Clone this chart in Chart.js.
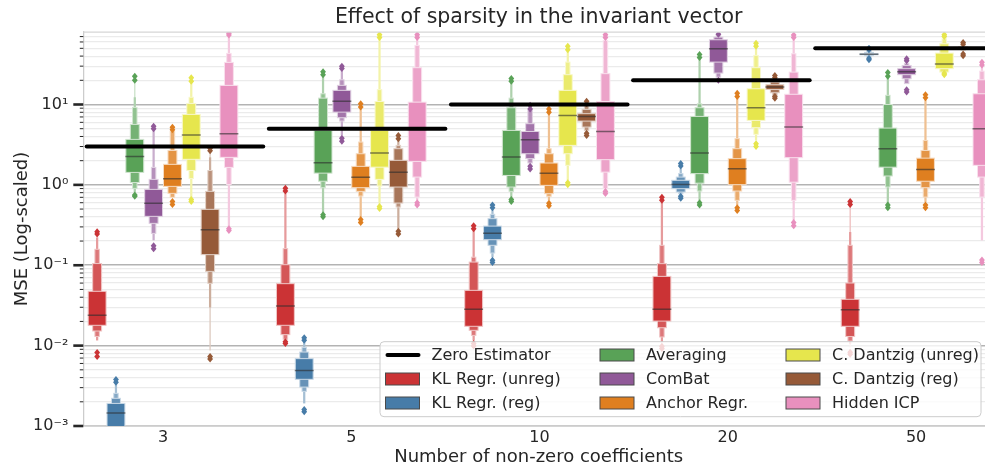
<!DOCTYPE html>
<html>
<head>
<meta charset="utf-8">
<title>Effect of sparsity in the invariant vector</title>
<script src="https://cdn.jsdelivr.net/npm/chart.js@4.4.0/dist/chart.umd.min.js"></script>
<style>
	html, body { margin: 0; padding: 0; overflow: hidden; background: #fff; }
	#wrap { width: 994px; height: 468px; }
</style>
</head>
<body>
<div id="wrap"><canvas id="sparsityChart"></canvas></div>
<script>
const categories = ["3", "5", "10", "20", "50"];
const zeroEstimator = [3, 5, 10, 20, 50];
const yTickValues = [0.001, 0.01, 0.1, 1, 10];
const yTickLabels = ["10⁻³", "10⁻²", "10⁻¹", "10⁰", "10¹"];
const minorSteps = [2, 3, 4, 5, 6, 7, 8, 9];

const seriesNames = [
	"KL Regr. (unreg)", "KL Regr. (reg)", "Averaging", "ComBat",
	"Anchor Regr.", "C. Dantzig (unreg)", "C. Dantzig (reg)", "Hidden ICP",
];
const seriesColors = ["#cb3335", "#477ca8", "#59a257", "#905998", "#df7f20", "#e6e64d", "#965a38", "#e890be"];

// each entry: median, letter-value boxes from inner to outer as [low, high], outliers
const klUnreg = [
	{ med: 0.0238, levels: [[0.0179, 0.0474], [0.0152, 0.105], [0.013, 0.158], [0.0116, 0.222]], out: [0.0073, 0.0082, 0.245, 0.262] },
	{ med: 0.0311, levels: [[0.0179, 0.059], [0.0137, 0.1016], [0.012, 0.161], [0.0115, 0.784]], out: [0.0106, 0.0112, 0.84, 0.91] },
	{ med: 0.0283, levels: [[0.0174, 0.0487], [0.0155, 0.1096], [0.0134, 0.126], [0.0116, 0.272]], out: [0.0099, 0.0106, 0.285, 0.31] },
	{ med: 0.0283, levels: [[0.0202, 0.0727], [0.0167, 0.1047], [0.0128, 0.177], [0.011, 0.611]], out: [0.0092, 0.0098, 0.645, 0.7] },
	{ med: 0.028, levels: [[0.0174, 0.0377], [0.013, 0.0601], [0.0114, 0.177], [0.0105, 0.259], [0.0095, 0.54]], out: [0.0078, 0.0083, 0.57, 0.62] },
];
const klReg = [
	{ med: 0.00145, levels: [[0.0008, 0.00191], [0.0006, 0.00221], [0.0005, 0.00255], [0.0004, 0.0034]], out: [0.0035, 0.0038] },
	{ med: 0.00492, levels: [[0.00381, 0.00689], [0.00305, 0.00832], [0.0027, 0.0095], [0.00191, 0.0111]], out: [0.0015, 0.0016, 0.0117, 0.0125] },
	{ med: 0.251, levels: [[0.208, 0.307], [0.177, 0.38], [0.142, 0.43], [0.126, 0.492]], out: [0.108, 0.115, 0.52, 0.56] },
	{ med: 1.01, levels: [[0.897, 1.14], [0.814, 1.25], [0.777, 1.38], [0.74, 1.6]], out: [0.68, 0.72, 1.72, 1.84] },
	{ med: 42.3, levels: [[41.5, 43.0], [40.5, 44.5], [39.5, 46]], out: [36, 37.5, 48, 50] },
];
const averaging = [
	{ med: 2.26, levels: [[1.43, 3.68], [1.07, 5.65], [0.904, 9.2], [0.807, 12.3], [0.78, 18.8]], out: [0.72, 0.75, 20, 22.5] },
	{ med: 1.89, levels: [[1.4, 4.76], [1.11, 12.0], [0.923, 13.6], [0.446, 22.3]], out: [0.4, 0.425, 23.5, 25.5] },
	{ med: 2.22, levels: [[1.31, 4.76], [0.94, 9.12], [0.83, 12], [0.705, 18.5]], out: [0.62, 0.66, 19.5, 21] },
	{ med: 2.49, levels: [[1.38, 7.11], [1.05, 9.12], [0.838, 10.2], [0.642, 37.1]], out: [0.56, 0.6, 38.5, 42] },
	{ med: 2.82, levels: [[1.66, 5.09], [1.29, 10.0], [0.94, 13.0], [0.583, 21.9]], out: [0.52, 0.56, 22.5, 25] },
];
const comBat = [
	{ med: 0.589, levels: [[0.406, 0.879], [0.332, 1.17], [0.249, 1.65], [0.204, 4.76]], out: [0.16, 0.175, 5.0, 5.35] },
	{ med: 11.0, levels: [[8.04, 15.0], [6.85, 17.3], [6.22, 20.3], [4.13, 27.1]], out: [3.5, 3.8, 28, 30] },
	{ med: 3.64, levels: [[2.44, 4.62], [2.12, 5.77], [1.87, 8.45]], out: [1.58, 1.7, 8.8, 9.8] },
	{ med: 49.4, levels: [[33.7, 63.9], [24.6, 68.9], [21.9, 72]], out: [20, 75] },
	{ med: 25.6, levels: [[23.5, 27.9], [20.9, 30.6], [18.2, 32.5]], out: [14.3, 15.3, 35, 37] },
];
const anchorRegr = [
	{ med: 1.19, levels: [[0.958, 1.8], [0.784, 2.68], [0.7, 4.62]], out: [0.57, 0.62, 4.85, 5.2] },
	{ med: 1.24, levels: [[0.923, 1.7], [0.83, 2.44], [0.726, 3.41], [0.398, 8.87]], out: [0.34, 0.37, 9.3, 10.2] },
	{ med: 1.4, levels: [[0.986, 1.87], [0.777, 2.44], [0.719, 2.82], [0.642, 7.69]], out: [0.55, 0.59, 8.0, 8.8] },
	{ med: 1.59, levels: [[1.006, 2.12], [0.838, 2.82], [0.642, 3.76], [0.556, 12.0]], out: [0.48, 0.52, 12.6, 13.8] },
	{ med: 1.55, levels: [[1.11, 2.15], [0.923, 2.68], [0.705, 3.57], [0.611, 11.6]], out: [0.52, 0.56, 12.1, 13.2] },
];
const dantzigUnreg = [
	{ med: 4.16, levels: [[2.08, 7.53], [1.51, 10.3], [1.2, 12.3], [0.7, 18.8]], out: [0.62, 0.66, 19.5, 21.5] },
	{ med: 2.49, levels: [[1.66, 4.76], [1.17, 10.9], [0.966, 15.3], [0.583, 65.7]], out: [0.51, 0.54, 68, 74] },
	{ med: 7.32, levels: [[3.1, 15.0], [2.44, 23.5], [1.75, 33.7], [1.14, 46.1]], out: [1.0, 1.06, 48, 53] },
	{ med: 9.12, levels: [[6.34, 15.7], [5.15, 28.7], [4.25, 40.8], [3.57, 50.3]], out: [3.0, 3.25, 53, 58] },
	{ med: 32, levels: [[27.9, 43.6], [25.3, 57], [25, 65.7]], out: [23.5, 24.5, 70, 74] },
];
const dantzigReg = [
	{ med: 0.277, levels: [[0.1355, 0.496], [0.0839, 0.83], [0.0595, 1.51], [0.0299, 2.2], [0.0087, 2.54]], out: [0.0068, 0.0073, 2.65, 2.85] },
	{ med: 1.44, levels: [[0.94, 2.02], [0.594, 2.82], [0.53, 3.1], [0.285, 3.57]], out: [0.245, 0.265, 3.75, 4.1] },
	{ med: 7.11, levels: [[6.22, 7.69], [5.24, 8.69], [4.76, 9.75]], out: [4.1, 4.4, 10.2, 11] },
	{ med: 16.5, levels: [[15.4, 17.6], [14.0, 19.0], [13.0, 20.5]], out: [12.0, 12.6, 21.5, 23] },
	{ med: 50.5, levels: [[49.5, 51.5], [48.5, 52.5], [47.5, 53.5]], out: [40.5, 42.5, 56, 59] },
];
const hiddenIcp = [
	{ med: 4.33, levels: [[2.2, 17.3], [1.65, 33.4], [1.01, 43.2], [0.296, 70.3]], out: [0.27, 0.285, 73, 77] },
	{ med: 4.9, levels: [[1.96, 10.7], [1.25, 28.7], [0.705, 54.3], [0.642, 65.7]], out: [0.56, 0.6, 68, 74] },
	{ med: 4.62, levels: [[2.06, 10.9], [1.44, 24.2], [0.897, 62.7], [0.855, 65.7]], out: [0.78, 0.83, 68, 74] },
	{ med: 5.24, levels: [[2.18, 13.4], [1.08, 25.3], [0.642, 42.8], [0.362, 64.5]], out: [0.31, 0.34, 68, 73] },
	{ med: 5.0, levels: [[1.75, 13.6], [1.25, 20.3], [0.705, 26], [0.204, 29.8]], out: [0.108, 0.116, 31, 33.5] },
];
const seriesData = [klUnreg, klReg, averaging, comBat, anchorRegr, dantzigUnreg, dantzigReg, hiddenIcp];

const FONT = "'DejaVu Sans', sans-serif";
const TEXT = "#262626";

function mixWhite(hex, t) {
	const n = parseInt(hex.slice(1), 16);
	const f = (c) => Math.round(c + (255 - c) * t);
	return `rgb(${f((n >> 16) & 255)},${f((n >> 8) & 255)},${f(n & 255)})`;
}

function isDecade(v) {
	const l = Math.log10(v);
	return Math.abs(l - Math.round(l)) < 1e-6;
}

function diamond(ctx, x, y, hw, hh) {
	ctx.beginPath();
	ctx.moveTo(x, y - hh);
	ctx.lineTo(x + hw, y);
	ctx.lineTo(x, y + hh);
	ctx.lineTo(x - hw, y);
	ctx.closePath();
	ctx.fill();
}

/**
 * Letter-value boxes, medians, outliers and the zero estimator lines
 */
const boxenPlugin = {
	id: "boxen",
	afterDatasetsDraw(chart) {
		const { ctx, chartArea: area, scales: { x, y } } = chart;
		const hueStep = 0.8 / chart.data.datasets.length;
		const fullW = (x.getPixelForValue(hueStep) - x.getPixelForValue(0)) * 0.95;

		ctx.save();
		ctx.beginPath();
		ctx.rect(area.left, area.top, area.width, area.height);
		ctx.clip();

		chart.data.datasets.forEach((ds, si) => {
			const base = ds.backgroundColor;
			ds.boxen.forEach((b, gi) => {
				const cx = x.getPixelForValue(gi - 0.4 + (si + 0.5) * hueStep);
				for (let j = b.levels.length - 1; j >= 0; j--) {
					const [lo, hi] = b.levels[j];
					const w = Math.max(fullW * Math.pow(0.5, j), 1.3);
					const top = y.getPixelForValue(hi);
					const bot = y.getPixelForValue(lo);
					ctx.fillStyle = mixWhite(base, Math.min(0.85, j * 0.17));
					ctx.fillRect(cx - w / 2, top, w, bot - top);
					if (w > 3) {
						ctx.strokeStyle = mixWhite(base, 0.72);
						ctx.lineWidth = 1;
						ctx.strokeRect(cx - w / 2, top, w, bot - top);
					}
				}
				const my = y.getPixelForValue(b.med);
				ctx.strokeStyle = "rgba(45,45,45,0.6)";
				ctx.lineWidth = 1.5;
				ctx.beginPath();
				ctx.moveTo(cx - fullW / 2 - 0.5, my);
				ctx.lineTo(cx + fullW / 2 + 0.5, my);
				ctx.stroke();

				ctx.fillStyle = base;
				b.out.forEach((v) => diamond(ctx, cx, y.getPixelForValue(v), 2.9, 3.5));
			});
		});

		// zero estimator: one segment per fifth of the axes
		ctx.strokeStyle = "#000";
		ctx.lineWidth = 4;
		ctx.lineCap = "round";
		zeroEstimator.forEach((v, i) => {
			const n = zeroEstimator.length;
			const x0 = area.left + area.width * (i / n + 0.0037);
			const x1 = area.left + area.width * ((i + 1) / n - 0.0024);
			const py = y.getPixelForValue(v);
			ctx.beginPath();
			ctx.moveTo(x0, py);
			ctx.lineTo(x1, py);
			ctx.stroke();
		});
		ctx.restore();
	},
	afterDraw(chart) {
		const { ctx, chartArea: area, scales: { y } } = chart;
		ctx.save();

		// top spine
		ctx.strokeStyle = "#d6d6d6";
		ctx.lineWidth = 1.25;
		ctx.beginPath();
		ctx.moveTo(area.left, area.top);
		ctx.lineTo(area.right, area.top);
		ctx.stroke();

		// y tick marks, long for decades, short for minor
		ctx.strokeStyle = TEXT;
		y.ticks.forEach((t) => {
			const py = y.getPixelForValue(t.value);
			const major = isDecade(t.value);
			ctx.lineWidth = major ? 2.6 : 1;
			ctx.beginPath();
			ctx.moveTo(area.left - (major ? 10 : 3.5), py);
			ctx.lineTo(area.left, py);
			ctx.stroke();
		});

		// legend, three columns, lower right inside the axes
		const entries = [{ label: "Zero Estimator", line: true }].concat(
			chart.data.datasets.map((ds) => ({ label: ds.label, color: ds.backgroundColor }))
		);
		const lw = 601, lh = 75;
		const lx = area.right - 13 - lw;
		const ly = area.bottom - 9.3 - lh;
		ctx.fillStyle = "rgba(255,255,255,0.8)";
		ctx.strokeStyle = "#cccccc";
		ctx.lineWidth = 1;
		ctx.beginPath();
		ctx.roundRect(lx, ly, lw, lh, 4);
		ctx.fill();
		ctx.stroke();

		const colX = [5.5, 220, 406];
		const rowY = [13.3, 37.3, 61.3];
		ctx.font = `16px ${FONT}`;
		ctx.textBaseline = "middle";
		ctx.textAlign = "left";
		entries.forEach((e, k) => {
			const hx = lx + colX[Math.floor(k / 3)];
			const hy = ly + rowY[k % 3];
			if (e.line) {
				ctx.strokeStyle = "#000";
				ctx.lineWidth = 4;
				ctx.lineCap = "round";
				ctx.beginPath();
				ctx.moveTo(hx + 2, hy);
				ctx.lineTo(hx + 33, hy);
				ctx.stroke();
			} else {
				ctx.fillStyle = e.color;
				ctx.fillRect(hx, hy - 6, 34, 12);
				ctx.strokeStyle = "#4a4a4a";
				ctx.lineWidth = 1;
				ctx.strokeRect(hx, hy - 6, 34, 12);
			}
			ctx.fillStyle = TEXT;
			ctx.fillText(e.label, hx + 46, hy + 1);
		});
		ctx.restore();
	},
};

function drawSparsityChart() {
	const canvas = document.getElementById("sparsityChart");
	const datasets = seriesNames.map((name, i) => ({
		label: name,
		data: [],
		backgroundColor: seriesColors[i],
		boxen: seriesData[i],
	}));

	const config = {
		type: "scatter",
		data: { datasets: datasets },
		options: {
			responsive: true,
			maintainAspectRatio: false,
			animation: false,
			layout: { padding: 0 },
			plugins: {
				legend: { display: false },
				tooltip: { enabled: false },
				title: {
					display: true,
					fullSize: false,
					text: "Effect of sparsity in the invariant vector",
					color: TEXT,
					font: { family: FONT, size: 20.5, weight: "normal" },
					padding: { top: 5, bottom: 2.4 },
				},
			},
			scales: {
				x: {
					type: "linear",
					min: -0.4235,
					max: 4.414,
					afterBuildTicks: (scale) => {
						scale.ticks = categories.map((c, i) => ({ value: i }));
					},
					afterFit: (scale) => {
						scale.height = 42;
					},
					grid: { display: false, drawTicks: false },
					border: { display: true, color: "#cccccc", width: 1.25 },
					ticks: {
						autoSkip: false,
						maxRotation: 0,
						padding: 2,
						color: TEXT,
						font: { family: FONT, size: 16 },
						callback: (v) => categories[Math.round(v)] ?? "",
					},
					title: {
						display: true,
						text: "Number of non-zero coefficients",
						color: TEXT,
						font: { family: FONT, size: 18 },
						padding: { top: 0, bottom: 0 },
					},
				},
				y: {
					type: "logarithmic",
					min: 0.001,
					max: 79.8,
					afterBuildTicks: (scale) => {
						const ticks = [];
						yTickValues.forEach((base) => {
							ticks.push({ value: base });
							minorSteps.forEach((m) => {
								if (base * m < scale.max) ticks.push({ value: base * m });
							});
						});
						scale.ticks = ticks;
					},
					afterFit: (scale) => {
						scale.width = 83.3;
					},
					grid: {
						drawTicks: false,
						color: (c) => (c.tick && isDecade(c.tick.value) ? "#b3b3b3" : "#ebebeb"),
						lineWidth: (c) => (c.tick && isDecade(c.tick.value) ? 1.6 : 1.2),
					},
					border: { display: true, color: "#cccccc", width: 1.25 },
					ticks: {
						autoSkip: false,
						padding: 15,
						color: TEXT,
						font: { family: FONT, size: 16 },
						callback: (v) => {
							const i = yTickValues.findIndex((t) => Math.abs(t - v) / t < 1e-6);
							return i >= 0 ? yTickLabels[i] : "";
						},
					},
					title: {
						display: true,
						text: "MSE (Log-scaled)",
						color: TEXT,
						font: { family: FONT, size: 18 },
						padding: { top: 12, bottom: 0 },
					},
				},
			},
		},
		plugins: [boxenPlugin],
	};

	if (window.sparsityChartObj) window.sparsityChartObj.destroy();
	window.sparsityChartObj = new Chart(canvas, config);
}

drawSparsityChart();
</script>
</body>
</html>
